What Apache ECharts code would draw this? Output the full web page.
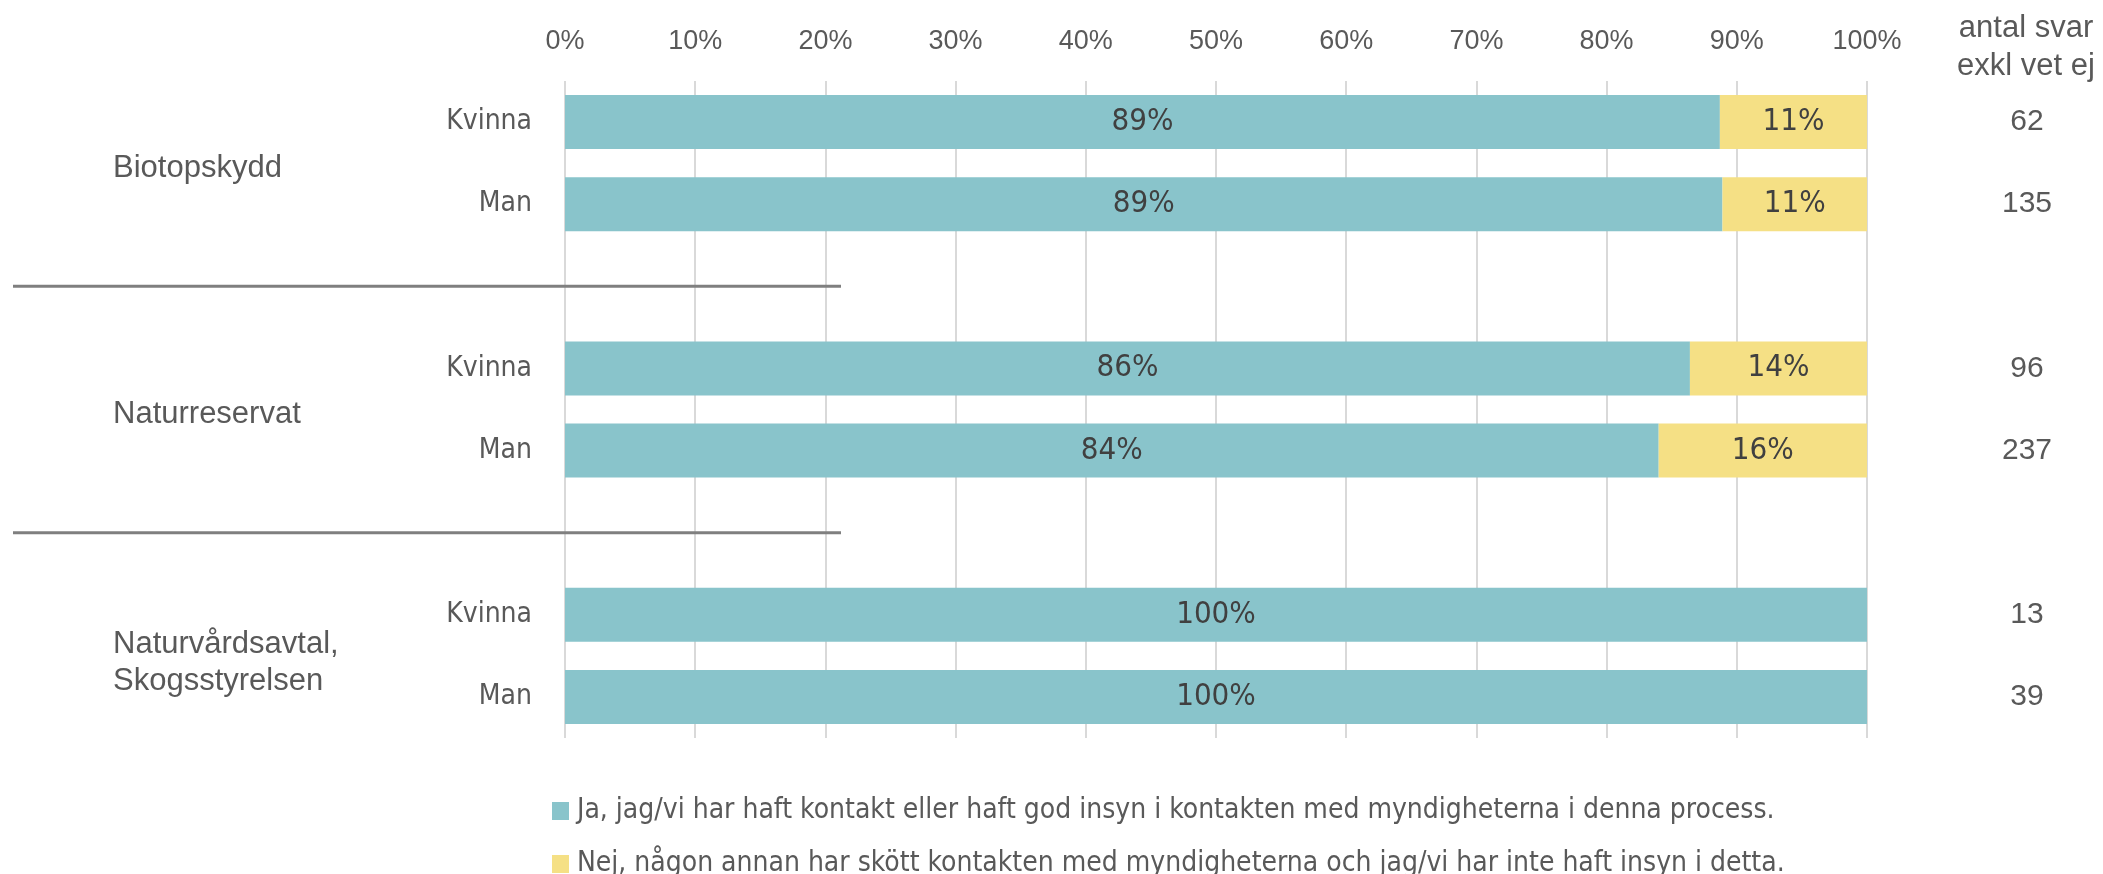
<!DOCTYPE html>
<html>
<head>
<meta charset="utf-8">
<script src="https://cdn.jsdelivr.net/npm/echarts@6/dist/echarts.min.js"></script>
<style>
html,body{margin:0;padding:0;background:#fff;}
#chart{width:2103px;height:874px;}
</style>
</head>
<body>
<div id="chart"></div>
<script>
// ---- data ----
const groups = ['Biotopskydd', 'Naturreservat', 'Naturvårdsavtal,\nSkogsstyrelsen'];
const genders = ['Kvinna', 'Man'];
// rows in order: Biotopskydd K, M, Naturreservat K, M, Naturvårdsavtal K, M
const jaValues = [88.7, 88.9, 86.4, 84.0, 100, 100];
const nejValues = [11.3, 11.1, 13.6, 16.0, null, null];
const counts = [62, 135, 96, 237, 13, 39];
const tickLabels = ['0%', '10%', '20%', '30%', '40%', '50%', '60%', '70%', '80%', '90%', '100%'];
const seriesNames = [
  'Ja, jag/vi har haft kontakt eller haft god insyn i kontakten med myndigheterna i denna process.',
  'Nej, någon annan har skött kontakten med myndigheterna och jag/vi har inte haft insyn i detta.'
];
const headerText = 'antal svar\nexkl vet ej';

// ---- build category rows (with spacer rows between groups) ----
const rowKeys = [];
const rowGender = [];
const rowIndexToData = [];
let di = 0;
groups.forEach((g, gi) => {
  genders.forEach(gen => {
    rowKeys.push(gi + '|' + gen);
    rowGender.push(gen);
    rowIndexToData.push(di++);
  });
  if (gi < groups.length - 1) {
    rowKeys.push('gap' + gi);
    rowGender.push('');
    rowIndexToData.push(null);
  }
});
const jaData = rowIndexToData.map(i => i === null ? null : jaValues[i]);
const nejData = rowIndexToData.map(i => i === null ? null : nejValues[i]);
const countLabels = rowIndexToData.map(i => i === null ? '' : String(counts[i]));

const ARIAL = "'Liberation Sans', Arial, sans-serif";
const NARROW = "'Liberation Sans Narrow', 'DejaVu Sans Condensed', sans-serif";
const GRAY = '#595959';
const COLORS = ['#89C4CB', '#F5E085'];

const legendStyle = {
  orient: 'horizontal',
  left: 547,
  itemWidth: 17,
  itemHeight: 18,
  icon: 'rect',
  textStyle: { fontFamily: NARROW, fontSize: 28, color: GRAY, padding: [0, 0, 0, 3] }
};

const chart = echarts.init(document.getElementById('chart'));
const option = {
  animation: false,
  backgroundColor: '#fff',
  color: COLORS,
  grid: { left: 565, right: 236, top: 81, bottom: 874 - 738, containLabel: false },
  legend: [
    Object.assign({}, legendStyle, { top: 792, data: [seriesNames[0]] }),
    Object.assign({}, legendStyle, { top: 845, data: [seriesNames[1]] })
  ],
  xAxis: {
    type: 'value',
    position: 'top',
    min: 0, max: 100, interval: 10,
    axisLine: { show: false },
    axisTick: { show: false },
    axisLabel: {
      margin: 26,
      fontFamily: ARIAL, fontSize: 27, color: GRAY,
      formatter: v => tickLabels[Math.round(v / 10)]
    },
    splitLine: { show: true, lineStyle: { color: '#D9D9D9', width: 2 } }
  },
  yAxis: [{
    type: 'category',
    inverse: true,
    data: rowKeys,
    axisLine: { show: false },
    axisTick: { show: false },
    axisLabel: {
      margin: 33,
      fontFamily: NARROW, fontSize: 28, color: GRAY,
      formatter: (v) => rowGender[rowKeys.indexOf(v)]
    }
  }, {
    type: 'category',
    inverse: true,
    position: 'right',
    data: rowKeys,
    axisLine: { show: false },
    axisTick: { show: false },
    axisLabel: {
      margin: 160,
      align: 'center',
      fontFamily: ARIAL, fontSize: 30, color: GRAY,
      formatter: (v) => countLabels[rowKeys.indexOf(v)]
    }
  }],
  series: [{
    name: seriesNames[0],
    type: 'bar',
    stack: 'total',
    barWidth: 54,
    itemStyle: { color: COLORS[0] },
    label: {
      show: true, position: 'inside',
      fontFamily: NARROW, fontSize: 31, color: '#404040',
      formatter: p => p.value == null ? '' : Math.round(p.value) + '%'
    },
    data: jaData
  }, {
    name: seriesNames[1],
    type: 'bar',
    stack: 'total',
    barWidth: 54,
    itemStyle: { color: COLORS[1] },
    label: {
      show: true, position: 'inside',
      fontFamily: NARROW, fontSize: 31, color: '#404040',
      formatter: p => p.value == null ? '' : Math.round(p.value) + '%'
    },
    data: nejData
  }]
};
chart.setOption(option);

// ---- group labels, separators and header placed via axis scale ----
const graphics = [];
let rowPos = 0;
groups.forEach((g, gi) => {
  const y1 = chart.convertToPixel({ yAxisIndex: 0 }, rowKeys[rowPos]);
  const y2 = chart.convertToPixel({ yAxisIndex: 0 }, rowKeys[rowPos + 1]);
  const multi = g.indexOf('\n') >= 0;
  graphics.push({
    type: 'text', z: 10,
    position: [113, (y1 + y2) / 2 + (multi ? 7 : 5)],
    style: {
      text: g, fontFamily: ARIAL, fontSize: 31, fill: GRAY,
      lineHeight: 37, verticalAlign: 'middle', align: 'left',
      x: 0, y: 0
    }
  });
  rowPos += 2;
  if (gi < groups.length - 1) {
    const ys = chart.convertToPixel({ yAxisIndex: 0 }, rowKeys[rowPos]);
    graphics.push({
      type: 'line', z: 10,
      shape: { x1: 13, y1: ys, x2: 841, y2: ys },
      style: { stroke: '#7F7F7F', lineWidth: 3 }
    });
    rowPos += 1;
  }
});
graphics.push({
  type: 'text', z: 10,
  position: [2026, 47],
  style: {
    text: headerText, fontFamily: ARIAL, fontSize: 31, fill: GRAY,
    lineHeight: 38, align: 'center', verticalAlign: 'middle', x: 0, y: 0
  }
});
chart.setOption({ graphic: graphics });
</script>
</body>
</html>
